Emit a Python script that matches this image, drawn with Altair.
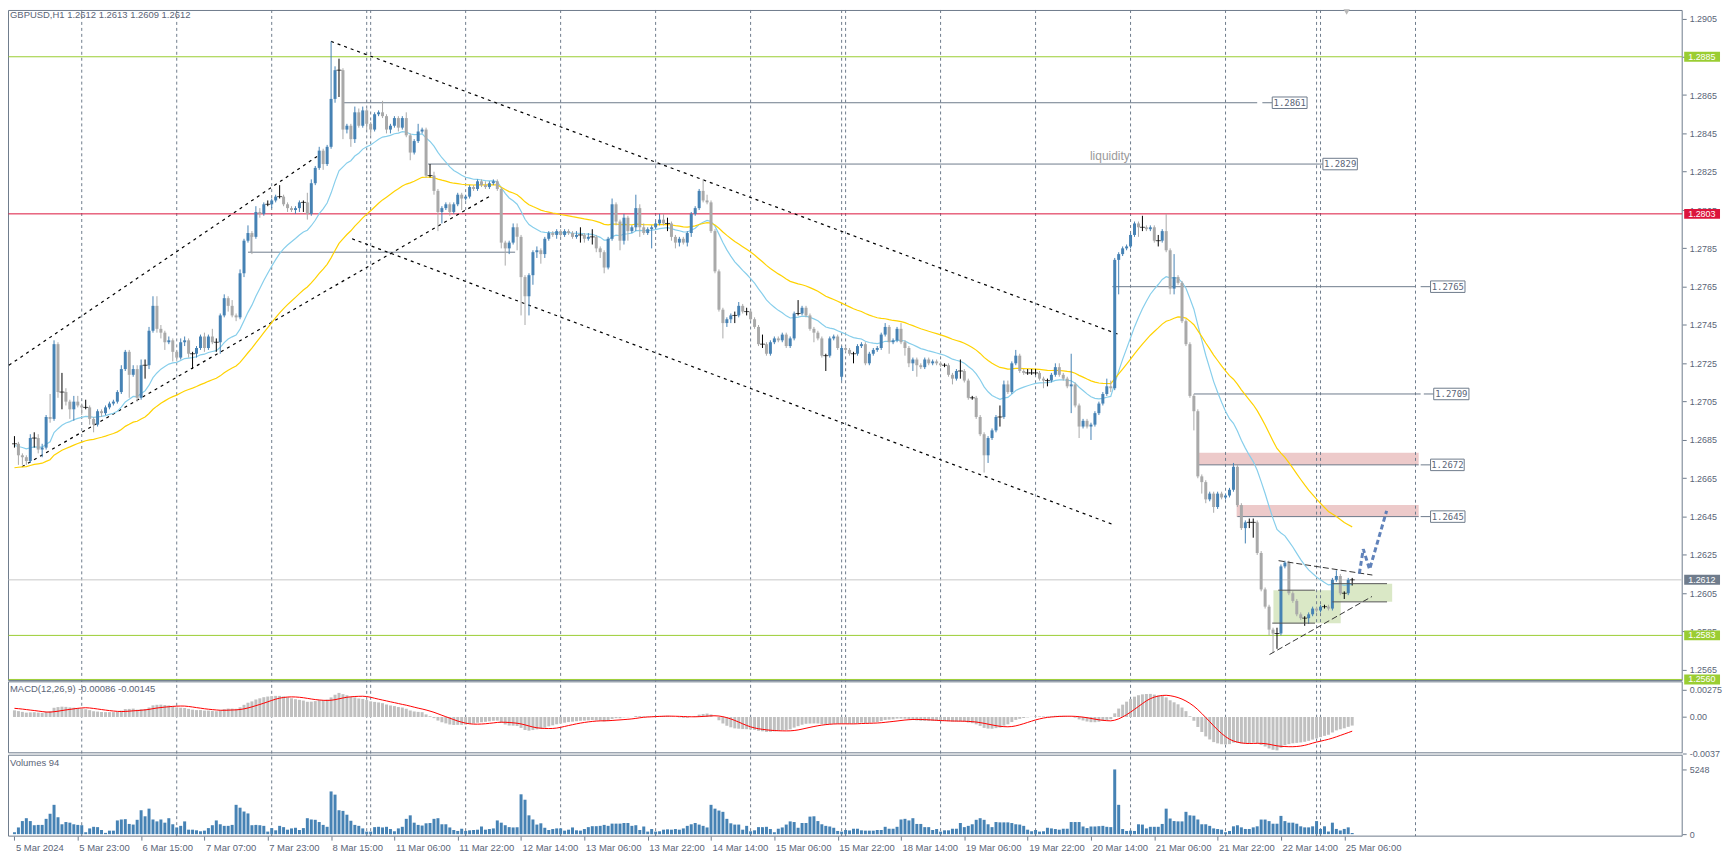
import altair as alt
import pandas as pd

# ---------------- data (GBPUSD H1) ----------------
closes = [
1.2683,1.2677,1.2676,1.2674,1.2686,1.2686,1.2680,1.2681,1.2697,1.2696,
1.2735,1.2710,1.2710,1.2705,1.2701,1.2705,1.2703,1.2702,1.2702,1.2696,
1.2693,1.2700,1.2699,1.2702,1.2704,1.2705,1.2710,1.2722,1.2731,1.2719,
1.2722,1.2707,1.2724,1.2724,1.2742,1.2755,1.2743,1.2741,1.2736,1.2737,
1.2731,1.2728,1.2736,1.2737,1.2730,1.2730,1.2733,1.2739,1.2733,1.2739,
1.2736,1.2736,1.2750,1.2759,1.2755,1.2750,1.2749,1.2772,1.2789,1.2793,
1.2791,1.2804,1.2803,1.2808,1.2808,1.2810,1.2812,1.2812,1.2808,1.2806,
1.2805,1.2806,1.2809,1.2809,1.2803,1.2819,1.2827,1.2836,1.2829,1.2838,
1.2863,1.2878,1.2878,1.2847,1.2849,1.2842,1.2856,1.2849,1.2857,1.2850,
1.2847,1.2855,1.2856,1.2854,1.2847,1.2849,1.2853,1.2848,1.2853,1.2844,
1.2835,1.2841,1.2846,1.2847,1.2823,1.2823,1.2815,1.2804,1.2806,1.2808,
1.2804,1.2808,1.2813,1.2811,1.2812,1.2817,1.2816,1.2820,1.2818,1.2817,
1.2819,1.2820,1.2816,1.2788,1.2785,1.2788,1.2796,1.2791,1.2770,1.2760,
1.2771,1.2783,1.2784,1.2782,1.2790,1.2793,1.2792,1.2794,1.2792,1.2794,
1.2793,1.2791,1.2792,1.2792,1.2790,1.2791,1.2791,1.2785,1.2783,1.2775,
1.2790,1.2808,1.2799,1.2789,1.2801,1.2794,1.2796,1.2806,1.2796,1.2793,
1.2795,1.2796,1.2798,1.2800,1.2798,1.2798,1.2791,1.2788,1.2790,1.2788,
1.2793,1.2803,1.2806,1.2815,1.2810,1.2809,1.2794,1.2773,1.2753,1.2746,
1.2748,1.2750,1.2750,1.2755,1.2752,1.2752,1.2748,1.2744,1.2735,1.2735,
1.2730,1.2736,1.2738,1.2737,1.2740,1.2734,1.2738,1.2751,1.2751,1.2754,
1.2750,1.2743,1.2741,1.2738,1.2729,1.2729,1.2738,1.2739,1.2733,1.2733,
1.2732,1.2730,1.2730,1.2734,1.2735,1.2725,1.2730,1.2732,1.2733,1.2740,
1.2744,1.2736,1.2737,1.2743,1.2736,1.2733,1.2725,1.2727,1.2724,1.2723,
1.2727,1.2725,1.2726,1.2725,1.2724,1.2724,1.2719,1.2717,1.2721,1.2721,
1.2716,1.2707,1.2707,1.2697,1.2688,1.2677,1.2686,1.2690,1.2697,1.2697,
1.2714,1.2710,1.2725,1.2729,1.2721,1.2720,1.2720,1.2720,1.2720,1.2717,
1.2716,1.2716,1.2719,1.2723,1.2719,1.2717,1.2713,1.2714,1.2703,1.2692,
1.2695,1.2692,1.2693,1.2699,1.2704,1.2709,1.2713,1.2712,1.2779,1.2782,
1.2785,1.2786,1.2792,1.2798,1.2796,1.2796,1.2795,1.2796,1.2789,1.2789,
1.2794,1.2784,1.2764,1.2770,1.2767,1.2747,1.2735,1.2708,1.2700,1.2666,
1.2663,1.2654,1.2657,1.2650,1.2657,1.2655,1.2656,1.2659,1.2671,1.2651,
1.2639,1.2642,1.2642,1.2642,1.2626,1.2607,1.2598,1.2586,1.2584,1.2584,
1.2619,1.2621,1.2605,1.2601,1.2594,1.2592,1.2592,1.2594,1.2597,1.2596,
1.2598,1.2598,1.2597,1.2612,1.2614,1.2605,1.2605,1.2612,1.2612]

wick_up_pips = [
4,1,1,1,2,3,2,2,1,12, 2,1,10,2,1,3,3,1,4,1, 1,1,1,1,1,1,1,2,1,1, 2,2,3,3,2,5,5,2,1,2,
1,1,2,2,1,1,1,1,2,1, 4,2,1,2,1,3,1,2,1,4, 1,3,2,1,2,1,1,6,1,1, 1,1,1,1,5,2,1,2,1,1,
30,2,6,1,1,1,3,2,2,1, 1,1,1,6,1,1,1,1,1,3, 1,1,4,1,1,6,2,1,1,1, 1,1,1,1,1,1,1,1,1,2,
1,1,1,1,1,1,2,2,1,1, 1,1,2,1,1,1,1,1,1,1, 1,1,2,4,1,2,4,1,1,1, 1,3,1,1,2,1,1,7,2,2,
1,1,1,3,3,3,1,1,1,1, 1,1,1,1,6,3,1,1,1,1, 1,1,2,2,1,2,1,1,1,5, 1,1,1,1,1,1,1,1,7,1,
1,1,1,1,1,1,1,1,1,1, 1,1,1,1,1,1,1,1,1,1, 2,1,1,1,3,1,1,1,1,1, 1,1,1,1,1,1,1,1,1,6,
1,1,1,1,1,1,1,1,1,6, 2,2,1,3,1,1,2,2,2,1, 1,1,1,2,2,1,1,16,1,1, 1,1,1,1,1,1,4,3,1,1,
1,1,1,1,1,6,1,1,1,3, 1,9,1,12,1,1,1,1,1,1, 1,1,1,1,1,1,1,1,2,1, 1,1,2,2,1,1,1,1,1,3,
1,1,1,1,1,1,1,1,1,1, 1,1,1,1,3,1,1,1,1]

wick_down_pips = [
2,5,4,2,1,5,2,4,1,2, 1,3,9,2,5,6,1,4,1,3, 4,1,2,1,1,1,1,1,1,12, 1,2,1,7,2,1,2,3,4,1,
5,2,1,2,2,8,2,1,2,1, 1,5,6,1,3,1,2,1,2,1, 9,1,2,1,1,2,1,1,1,2, 1,2,2,5,3,1,1,1,3,1,
1,2,14,5,2,4,2,1,1,3, 3,1,1,1,2,2,1,2,1,1, 4,1,1,1,1,1,2,10,6,1, 2,1,1,6,1,1,1,1,1,1,
1,1,1,3,9,3,1,7,20,15, 10,5,3,5,2,1,1,2,1,1, 1,1,1,4,2,1,4,2,3,3, 1,1,2,5,2,5,1,2,5,1,
1,10,1,1,1,4,2,3,2,1, 2,2,1,1,1,1,1,1,1,8, 2,2,4,1,1,2,1,1,1,2, 1,1,1,1,1,1,1,1,1,1,
1,1,5,1,1,8,1,1,1,2, 1,1,5,1,1,1,1,1,1,1, 1,6,1,1,1,4,2,4,6,1, 1,1,1,1,1,1,1,3,1,4,
1,1,1,1,1,9,4,1,1,5, 1,1,1,1,1,1,1,1,1,1, 4,3,1,1,1,1,1,14,1,6, 1,1,7,1,1,1,1,2,1,18,
1,1,1,1,5,2,1,1,1,3, 1,1,3,3,1,1,1,1,10,1, 6,2,1,3,1,1,1,1,1,1, 1,8,3,8,1,1,1,3,10,8,
1,1,1,1,1,1,4,3,1,1, 1,1,1,1,1,1,3,1,3]

volumes = [
155,543,1060,1293,1060,724,750,750,1241,1654, 2378,1370,801,982,931,801,750,724,155,465,
595,569,336,103,284,284,1112,1189,1215,827, 776,1163,1939,1448,2068,1189,1034,1189,931,1293,
801,543,672,1034,362,362,310,233,284,491, 724,1112,801,672,672,750,2378,2146,1835,1680,
724,750,724,672,207,491,310,672,569,362, 465,517,336,491,1293,1189,1163,982,750,595,
3464,3205,1939,1887,1577,1086,750,672,465,207, 207,569,595,543,595,414,233,465,595,1241,
1525,931,750,698,879,905,1241,1293,801,801, 543,336,259,439,259,310,336,362,620,362,
414,465,1112,931,724,569,543,569,3231,2792, 1525,1189,776,879,517,336,414,465,465,284,
362,543,310,284,414,569,646,646,672,750, 672,853,853,853,905,905,672,724,336,620,
207,414,207,233,362,390,362,414,362,465, 672,801,905,776,672,543,2378,2068,1913,1810,
1241,879,776,776,362,672,233,310,569,569, 595,414,155,439,543,776,1034,982,517,905,
905,1422,1448,1060,801,672,620,517,259,207, 336,300,439,439,310,284,284,284,336,336,
595,439,439,595,1189,1241,1112,1293,827,827, 569,569,336,414,207,310,310,439,439,905,
569,672,801,1163,1293,1163,801,569,982,956, 956,956,900,801,776,672,362,233,336,207,
233,517,465,414,362,439,439,982,982,982, 620,491,620,620,646,672,595,569,5248,2378,
414,259,284,259,801,776,465,595,595,595, 827,2068,1267,1060,1034,1034,1810,1525,1499,1189,
801,801,672,465,414,362,155,259,635,720, 550,420,420,550,635,1184,1184,1058,846,846,
1480,1058,931,931,846,635,550,550,635,1058, 423,635,212,931,423,296,423,550,94]

open_overrides = {0: 1.2683, 209: 1.2718}

x_label_texts = ["5 Mar 2024", "5 Mar 23:00", "6 Mar 15:00", "7 Mar 07:00", "7 Mar 23:00",
                 "8 Mar 15:00", "11 Mar 06:00", "11 Mar 22:00", "12 Mar 14:00", "13 Mar 06:00",
                 "13 Mar 22:00", "14 Mar 14:00", "15 Mar 06:00", "15 Mar 22:00", "18 Mar 14:00",
                 "19 Mar 06:00", "19 Mar 22:00", "20 Mar 14:00", "21 Mar 06:00", "21 Mar 22:00",
                 "22 Mar 14:00", "25 Mar 06:00"]
x_label_step = 16
day_separator_bars = [17, 41, 65, 89, 90, 114, 138, 162, 186, 209, 210, 234, 258, 282, 306, 329, 330, 354]
chart_shift_bar = 336.6

price_tick_values = [1.2905, 1.2885, 1.2865, 1.2845, 1.2825, 1.2805, 1.2785, 1.2765, 1.2745,
                     1.2725, 1.2705, 1.2685, 1.2665, 1.2645, 1.2625, 1.2605, 1.2585, 1.2565]
macd_tick_values = [0.00275, 0.0, -0.0037]
macd_tick_texts = ["0.00275", "0.00", "-0.0037"]
volume_tick_values = [5248, 0]

full_level_prices = [1.2885, 1.2803, 1.2583, 1.2560]
full_level_colors = ["#9ACD32", "#DC143C", "#9ACD32", "#9ACD32"]
current_price = 1.2612

badge_prices = [1.2885, 1.2803, 1.2612, 1.2583, 1.2560]
badge_colors = ["#9ACD32", "#DC143C", "#6F7C8C", "#9ACD32", "#9ACD32"]

level_prices = [1.2861, 1.2829, 1.2765, 1.2709, 1.2672, 1.2645]
level_start = [82.9, 104.5, 277.4, 298.0, 299.0, 309.0]
level_end = [314.0, 329.8, 354.0, 355.3, 354.8, 354.8]
level_seg_start = [315.3, 329.8, 355.3, 356.1, 355.3, 355.3]
level_box_start = [317.8, 330.6, 357.8, 358.6, 357.8, 357.8]
level_box_end = [326.6, 339.3, 366.5, 367.5, 366.3, 366.5]

bracket_price, bracket_x0, bracket_x1 = 1.2783, 59.0, 126.5
bracket_tick_x, bracket_tick_top = 59.8, 1.2792

channel_x0 = [-1.4, 1.9, 80.0, 85.3]
channel_y0 = [1.2724, 1.2671, 1.2893, 1.2790]
channel_x1 = [77.2, 119.9, 279.1, 277.4]
channel_y1 = [1.2834, 1.2812, 1.2740, 1.2641]

triangle_x0 = [319.4, 317.1]
triangle_y0 = [1.2622, 1.2573]
triangle_x1 = [343.1, 343.0]
triangle_y1 = [1.26145, 1.26033]

forecast_x = [339.8, 340.8, 342.4, 346.7]
forecast_y = [1.26152, 1.2628, 1.26175, 1.2648]

pink_x0, pink_x1 = [298.9, 308.8], [354.8, 354.8]
pink_y0, pink_y1 = [1.26719, 1.26448], [1.26783, 1.26511]
green_x0, green_x1 = [318.1, 333.0], [335.1, 348.1]
green_y0, green_y1 = [1.25894, 1.26005], [1.26066, 1.26100]
green_edge_x0 = [319.3, 317.8, 333.0, 333.0]
green_edge_x1 = [328.6, 328.6, 346.8, 346.8]
green_edge_y = [1.26066, 1.25894, 1.26100, 1.26005]

liquidity_x, liquidity_y = 281.8, 1.2831

ema_fast_span, ema_fast_seed = 20, 1.2682
ema_slow_span, ema_slow_seed = 50, 1.2670
macd_fast_seed, macd_slow_seed, macd_signal_pre = 1.2680, 1.2673, 0.0009

header_macd = "MACD(12,26,9) -0.00086 -0.00145"

# ---------------- derived series ----------------
def ema(vals, span, seed):
    a = 2.0 / (span + 1)
    e = seed
    out = []
    for v in vals:
        e += a * (v - e)
        out.append(e)
    return out

n = len(closes)
opens = [open_overrides.get(i, closes[i - 1] if i > 0 else closes[0]) for i in range(n)]
highs = [max(o, c) + u * 1e-4 for o, c, u in zip(opens, closes, wick_up_pips)]
lows = [min(o, c) - d * 1e-4 for o, c, d in zip(opens, closes, wick_down_pips)]
kinds = ["bull" if c > o + 1e-7 else ("bear" if c < o - 1e-7 else "doji") for o, c in zip(opens, closes)]
e12 = ema(closes, 12, macd_fast_seed)
e26 = ema(closes, 26, macd_slow_seed)
macd_main = [a - b for a, b in zip(e12, e26)]
ext = [macd_signal_pre] * 8 + macd_main
signal = [sum(ext[i:i + 9]) / 9 for i in range(n)]

df = pd.DataFrame({
    "bar": list(range(n)), "open": opens, "high": highs, "low": lows, "close": closes,
    "kind": kinds, "ema_fast": ema(closes, ema_fast_span, ema_fast_seed),
    "ema_slow": ema(closes, ema_slow_span, ema_slow_seed),
    "macd": macd_main, "signal": signal, "volume": volumes[:n],
})
body_df = df[df.kind != "doji"]
doji_df = df[df.kind == "doji"]

# ---------------- layout ----------------
W, H = 1682, 830
MAIN_BOTTOM = 673.7
MACD_TOP, MACD_BOTTOM = 675.0, 746.3
VOL_TOP, VOL_BOTTOM = 748.7, 830.0
TXT = "#5a6477"
LINE = "#6E7B8B"
FONT = "Liberation Sans"

XS = alt.Scale(domain=[-0.375, -0.375 + W / 4.0], nice=False, zero=False)
PS = alt.Scale(domain=[1.2560, 1.2905], range=[672.6, 8.5], nice=False, zero=False)
MS = alt.Scale(domain=[-0.0037, 0.00275], range=[747, 683], nice=False, zero=False, clamp=True)
VS = alt.Scale(domain=[0, 5248], range=[828, 763], nice=False, zero=False, clamp=True)

labels_js = "[" + ",".join("'%s'" % t for t in x_label_texts) + "]"
X_AXIS = alt.Axis(
    orient="bottom", values=[i * x_label_step for i in range(len(x_label_texts))],
    labelExpr=labels_js + "[round(datum.value / %d)]" % x_label_step,
    tickSize=4, labelAlign="left", labelBaseline="top", labelPadding=2, labelOffset=1,
    labelFontSize=9.5, domain=False, grid=False, labelOverlap=False, labelFlush=False, title=None)


def X(f):
    return alt.X(f"{f}:Q", scale=XS, axis=X_AXIS)


def PY(f):
    return alt.Y(f"{f}:Q", scale=PS, axis=None)


layers = []

# panel frames
frames = pd.DataFrame({"t": [0.5, MACD_TOP, VOL_TOP], "b": [MAIN_BOTTOM, MACD_BOTTOM, VOL_BOTTOM]})
layers.append(alt.Chart(frames).mark_rect(fillOpacity=0, stroke=LINE, strokeWidth=1).encode(
    x=alt.value(0.5), x2=alt.value(W), y=alt.Y("t:Q", scale=None, axis=None), y2="b:Q"))

# zones
pink = pd.DataFrame({"x0": pink_x0, "x1": pink_x1, "y0": pink_y0, "y1": pink_y1})
layers.append(alt.Chart(pink).mark_rect(color="#EDCACA").encode(x=X("x0"), x2="x1", y=PY("y0"), y2="y1"))
green = pd.DataFrame({"x0": green_x0, "x1": green_x1, "y0": green_y0, "y1": green_y1})
layers.append(alt.Chart(green).mark_rect(color="#D3E4BC", opacity=0.85).encode(x=X("x0"), x2="x1", y=PY("y0"), y2="y1"))

# day separators
sep = pd.DataFrame({"bar": day_separator_bars})
layers.append(alt.Chart(sep).mark_rule(color=LINE, strokeDash=[3, 3], strokeWidth=1).encode(
    x=X("bar"), y=alt.value(0), y2=alt.value(H)))

# chart-shift marker at the top edge
shift = pd.DataFrame({"bar": [chart_shift_bar]})
layers.append(alt.Chart(shift).mark_point(shape="triangle-down", filled=True, size=40, color="#B8B8B8", opacity=1).encode(
    x=X("bar"), y=alt.value(2)))

# full-width levels
lv = pd.DataFrame({"p": full_level_prices + [current_price], "col": full_level_colors + ["#C8C8C8"]})
layers.append(alt.Chart(lv).mark_rule(strokeWidth=1).encode(
    x=alt.value(0.5), x2=alt.value(W), y=PY("p"), color=alt.Color("col:N", scale=None)))

# gray level lines with price boxes
lvl = pd.DataFrame({"p": level_prices, "x0": level_start, "x1": level_end, "s0": level_seg_start,
                    "b0": level_box_start, "b1": level_box_end,
                    "txt": [f"{p:.4f}" for p in level_prices]})
lvl["p0"] = lvl.p - 0.0003
lvl["p1"] = lvl.p + 0.0003
lvl["bm"] = (lvl.b0 + lvl.b1) / 2
layers.append(alt.Chart(lvl).mark_rule(color=LINE, strokeWidth=1).encode(x=X("x0"), x2="x1", y=PY("p")))
layers.append(alt.Chart(lvl).mark_rule(color=LINE, strokeWidth=1).encode(x=X("s0"), x2="b0", y=PY("p")))
layers.append(alt.Chart(lvl).mark_rect(fill="white", stroke=LINE, strokeWidth=1).encode(
    x=X("b0"), x2="b1", y=PY("p0"), y2="p1"))
layers.append(alt.Chart(lvl).mark_text(font="DejaVu Sans Mono", fontSize=9, color=TXT, baseline="middle").encode(
    x=X("bm"), y=PY("p"), text="txt:N"))

br = pd.DataFrame({"p": [bracket_price], "x0": [bracket_x0], "x1": [bracket_x1],
                   "tx": [bracket_tick_x], "pt": [bracket_tick_top]})
layers.append(alt.Chart(br).mark_rule(color=LINE, strokeWidth=1).encode(x=X("x0"), x2="x1", y=PY("p")))
layers.append(alt.Chart(br).mark_rule(color=LINE, strokeWidth=1).encode(x=X("tx"), y=PY("p"), y2="pt"))

# channel lines
ch = pd.DataFrame({"x0": channel_x0, "y0": channel_y0, "x1": channel_x1, "y1": channel_y1})
layers.append(alt.Chart(ch).mark_rule(color="#000000", strokeDash=[3, 4], strokeWidth=1.2, clip=True).encode(
    x=X("x0"), y=PY("y0"), x2="x1", y2="y1"))

# moving averages
layers.append(alt.Chart(df).mark_line(color="#87CEEB", strokeWidth=1.2, clip=True).encode(x=X("bar"), y=PY("ema_fast")))
layers.append(alt.Chart(df).mark_line(color="#FFD200", strokeWidth=1.2, clip=True).encode(x=X("bar"), y=PY("ema_slow")))

# candles
cscale = alt.Scale(domain=["bull", "bear", "doji"], range=["#4682B4", "#A9A9A9", "#000000"])
layers.append(alt.Chart(df).mark_rule(strokeWidth=1).encode(
    x=X("bar"),
    y=alt.Y("low:Q", scale=PS, axis=alt.Axis(orient="right", values=price_tick_values, format=".4f",
                                              tickSize=4, labelPadding=3, domain=False, grid=False,
                                              labelOverlap=False, labelFlush=False, title=None)),
    y2="high", color=alt.Color("kind:N", scale=cscale, legend=None)))
layers.append(alt.Chart(body_df).mark_bar(size=3).encode(
    x=X("bar"), y=PY("open"), y2="close", color=alt.Color("kind:N", scale=cscale, legend=None)))
layers.append(alt.Chart(doji_df).mark_tick(orient="horizontal", size=5, thickness=1, color="#000000").encode(
    x=X("bar"), y=PY("close")))

# triangle and forecast
tri = pd.DataFrame({"x0": triangle_x0, "y0": triangle_y0, "x1": triangle_x1, "y1": triangle_y1})
layers.append(alt.Chart(tri).mark_rule(color="#333333", strokeDash=[6, 3], strokeWidth=1).encode(
    x=X("x0"), y=PY("y0"), x2="x1", y2="y1"))
ge = pd.DataFrame({"x0": green_edge_x0, "x1": green_edge_x1, "p": green_edge_y})
layers.append(alt.Chart(ge).mark_rule(color="#555555", strokeWidth=1).encode(x=X("x0"), x2="x1", y=PY("p")))
fc = pd.DataFrame({"x": forecast_x, "y": forecast_y, "o": list(range(len(forecast_x)))})
layers.append(alt.Chart(fc).mark_line(color="#4F74B3", strokeDash=[5, 3], strokeWidth=3, opacity=0.9).encode(
    x=X("x"), y=PY("y"), order="o:Q"))

# liquidity label
lq = pd.DataFrame({"x": [liquidity_x], "y": [liquidity_y], "t": ["liquidity"]})
layers.append(alt.Chart(lq).mark_text(align="right", baseline="alphabetic", font=FONT, fontSize=12,
                                      color="#9a9a9a").encode(x=X("x"), y=PY("y"), text="t:N"))

# MACD
layers.append(alt.Chart(df).mark_bar(size=3, color="#C0C0C0").encode(
    x=X("bar"),
    y=alt.Y("macd:Q", scale=MS, axis=alt.Axis(
        orient="right", values=macd_tick_values, tickSize=4, labelPadding=3, domain=False, grid=False,
        labelOverlap=False, labelFlush=False, title=None,
        labelExpr="datum.value > 0 ? '%s' : (datum.value < 0 ? '%s' : '%s')" % (
            macd_tick_texts[0], macd_tick_texts[2], macd_tick_texts[1]))),
    y2=alt.datum(0)))
layers.append(alt.Chart(df).mark_line(color="#FF0000", strokeWidth=1).encode(
    x=X("bar"), y=alt.Y("signal:Q", scale=MS, axis=None)))

# Volumes
layers.append(alt.Chart(df).mark_bar(size=3, color="#4682B4").encode(
    x=X("bar"),
    y=alt.Y("volume:Q", scale=VS, axis=alt.Axis(
        orient="right", values=volume_tick_values, format="d", tickSize=4, labelPadding=3, domain=False,
        grid=False, labelOverlap=False, labelFlush=False, title=None)),
    y2=alt.datum(0)))

# right-axis coloured price badges
bd = pd.DataFrame({"p": badge_prices, "col": badge_colors, "txt": [f"{p:.4f}" for p in badge_prices]})
bd["p0"] = bd.p - 0.00026
bd["p1"] = bd.p + 0.00026
layers.append(alt.Chart(bd).mark_rect().encode(
    x=alt.value(W + 2), x2=alt.value(W + 38), y=PY("p0"), y2="p1", color=alt.Color("col:N", scale=None)))
layers.append(alt.Chart(bd).mark_text(align="left", baseline="middle", font=FONT, fontSize=9, color="white").encode(
    x=alt.value(W + 6), y=PY("p"), text="txt:N"))

# panel headers
last = df.iloc[-1]
headers = pd.DataFrame({
    "t": ["GBPUSD,H1  %.4f %.4f %.4f %.4f" % (last.open, last.high, last.low, last.close),
          header_macd, "Volumes %d" % int(last.volume)],
    "y": [5.0, MACD_TOP + 7, VOL_TOP + 8]})
layers.append(alt.Chart(headers).mark_text(align="left", baseline="middle", font=FONT, fontSize=9.5, color=TXT).encode(
    x=alt.value(2), y=alt.Y("y:Q", scale=None, axis=None), text="t:N"))

chart = alt.layer(*layers).resolve_scale(y="independent").properties(
    width=W, height=H, autosize=alt.AutoSizeParams(type="none"),
    padding={"left": 0, "top": 0, "right": 43, "bottom": 24}, background="white",
).configure_view(stroke=None).configure_axis(
    labelFont=FONT, labelFontSize=9, labelColor=TXT, tickColor=LINE)

chart.save("out.html", embed_options={"renderer": "svg", "actions": False})
